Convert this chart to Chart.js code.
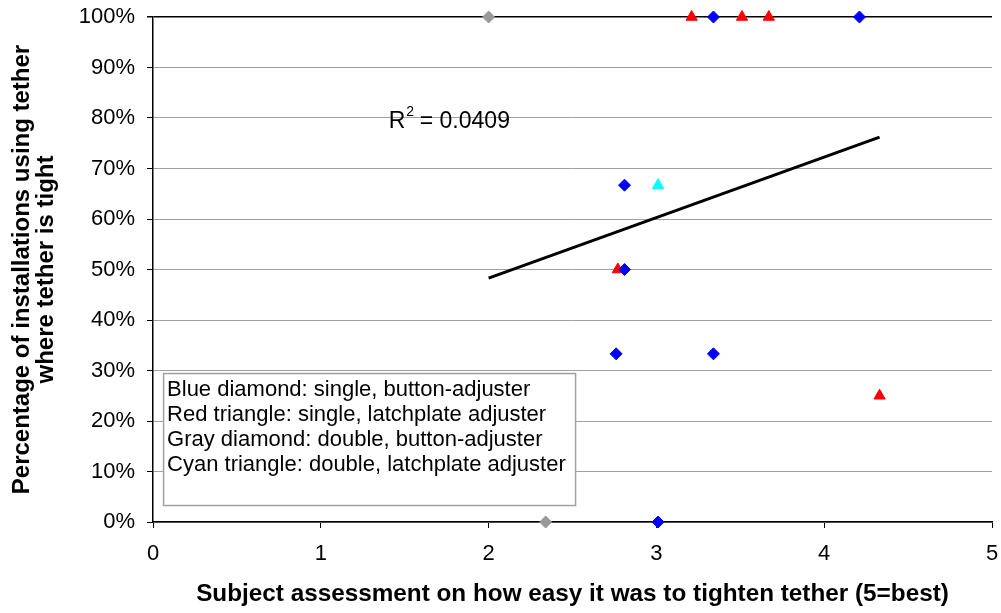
<!DOCTYPE html>
<html>
<head>
<meta charset="utf-8">
<script src="https://cdn.jsdelivr.net/npm/chart.js@4.4.1/dist/chart.umd.min.js"></script>
<style>
  html, body { margin: 0; padding: 0; background: #fff; }
  #wrap { width: 1001px; height: 613px; }
</style>
</head>
<body>
<div id="wrap"><canvas id="c"></canvas></div>
<script>
// ── Data ─────────────────────────────────────────────────────
const blueX  = [3.34, 4.21, 2.81, 2.81, 2.76, 3.34, 3.01];
const blueY  = [100, 100, 66.7, 50, 33.3, 33.3, 0];

const redX   = [3.21, 3.51, 3.67, 2.77, 4.33];
const redY   = [100, 100, 100, 50, 25];

const grayX  = [2.0, 2.34];
const grayY  = [100, 0];

const cyanX  = [3.01];
const cyanY  = [66.7];

// trend line end points
const trendX = [2.0, 4.33];
const trendY = [48.3, 76.2];

const legendLines = [
    'Blue diamond: single, button-adjuster',
    'Red triangle: single, latchplate adjuster',
    'Gray diamond: double, button-adjuster',
    'Cyan triangle: double, latchplate adjuster'
];
const rSquared = '0.0409';

const pts = (xs, ys) => xs.map((x, i) => ({ x: x, y: ys[i] }));
const FONT = "'Liberation Sans', Arial, sans-serif";

// ── Text box + R² label ──────────────────────────────────────
const annotations = {
    id: 'annotations',
    beforeDatasetsDraw(chart) {
        const ctx = chart.ctx;
        const xs = chart.scales.x, ys = chart.scales.y;
        ctx.save();

        // legend text box
        const bx = xs.getPixelForValue(0.06), by = ys.getPixelForValue(29.5);
        ctx.fillStyle = '#fff';
        ctx.fillRect(bx, by, 412, 132);
        ctx.strokeStyle = '#a0a0a0';
        ctx.lineWidth = 1.5;
        ctx.strokeRect(bx + 0.5, by + 0.5, 412, 132);
        ctx.fillStyle = '#000';
        ctx.font = '22px ' + FONT;
        ctx.textBaseline = 'middle';
        legendLines.forEach((t, i) => ctx.fillText(t, bx + 4, by + 17 + i * 25));

        // R² label
        const rx = xs.getPixelForValue(1.405), ry = ys.getPixelForValue(79.3);
        ctx.font = '23px ' + FONT;
        ctx.fillText('R', rx, ry);
        const w = ctx.measureText('R').width;
        ctx.font = '14px ' + FONT;
        ctx.fillText('2', rx + w + 1, ry - 9);
        ctx.font = '23px ' + FONT;
        ctx.fillText(' = ' + rSquared, rx + w + 8, ry);
        ctx.restore();
    }
};

new Chart(document.getElementById('c'), {
    type: 'scatter',
    data: {
        datasets: [
            {
                type: 'line',
                data: pts(trendX, trendY),
                borderColor: '#000',
                borderWidth: 3,
                pointRadius: 0,
                fill: false
            },
            {
                data: pts(grayX, grayY),
                pointStyle: 'rectRot',
                pointRadius: 6,
                backgroundColor: '#999999',
                borderColor: '#999999',
                clip: false
            },
            {
                data: pts(blueX, blueY),
                pointStyle: 'rectRot',
                pointRadius: 6,
                backgroundColor: '#0000ff',
                borderColor: '#0000ff',
                clip: false
            },
            {
                data: pts(redX, redY),
                pointStyle: 'triangle',
                pointRadius: 6.5,
                backgroundColor: '#ff0000',
                borderColor: '#ff0000',
                clip: false
            },
            {
                data: pts(cyanX, cyanY),
                pointStyle: 'triangle',
                pointRadius: 6.5,
                backgroundColor: '#00ffff',
                borderColor: '#00ffff',
                clip: false
            }
        ]
    },
    options: {
        responsive: true,
        maintainAspectRatio: false,
        animation: false,
        layout: { padding: { top: 17, right: 9, left: 0, bottom: 0 } },
        plugins: {
            legend: { display: false },
            tooltip: { enabled: false }
        },
        scales: {
            x: {
                type: 'linear',
                min: 0, max: 5,
                // fixed axis height, no extra label overhang padding
                afterFit: s => { s.height = 91; s.paddingLeft = 0; s.paddingRight = 0; },
                ticks: {
                    stepSize: 1,
                    padding: 13,
                    color: '#000',
                    font: { family: FONT, size: 22 }
                },
                grid: { drawOnChartArea: false, tickLength: 6, tickColor: '#000' },
                border: { color: '#000', width: 1.5 },
                title: {
                    display: true,
                    text: 'Subject assessment on how easy it was to tighten tether (5=best)',
                    color: '#000',
                    font: { family: FONT, size: 24.3, weight: 'bold' },
                    padding: { top: 16 }
                }
            },
            y: {
                min: 0, max: 100,
                afterFit: s => { s.width = 153; s.paddingTop = 0; s.paddingBottom = 0; },
                ticks: {
                    stepSize: 10,
                    padding: 12,
                    color: '#000',
                    font: { family: FONT, size: 22 },
                    callback: v => v + '%'
                },
                grid: {
                    color: c => (c.tick && c.tick.value === 100) ? '#000' : '#a0a0a0',
                    lineWidth: c => (c.tick && c.tick.value === 100) ? 1.5 : 1,
                    tickLength: 6,
                    tickColor: '#000'
                },
                border: { color: '#000', width: 1.5 },
                title: {
                    display: true,
                    text: ['Percentage of installations using tether', 'where tether is tight'],
                    color: '#000',
                    font: { family: FONT, size: 24, weight: 'bold', lineHeight: 1.0 },
                    padding: { top: 10, bottom: 4 }
                }
            }
        }
    },
    plugins: [annotations]
});
</script>
</body>
</html>
